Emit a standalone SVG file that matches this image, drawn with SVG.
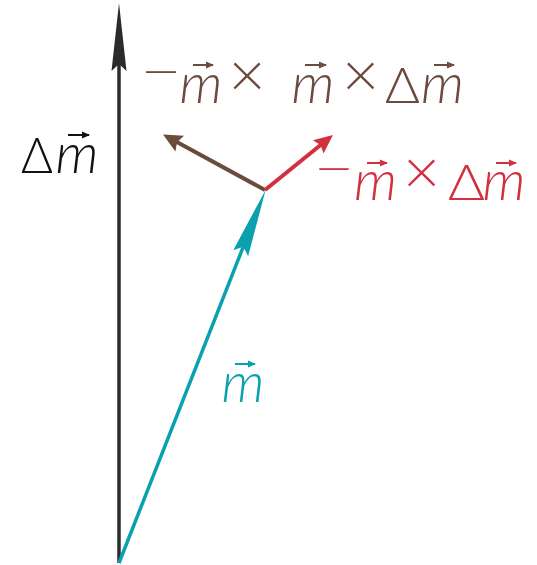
<svg xmlns="http://www.w3.org/2000/svg" width="537" height="565" viewBox="0 0 537 565">
<defs>
<style>
.t{font-family:"Lato","DejaVu Sans",sans-serif;font-weight:300}
.m{font-style:italic;font-size:55px;text-anchor:middle}
.d{font-size:50px;text-anchor:middle}
.x{font-size:64px;text-anchor:middle}
.mi{font-size:50px;text-anchor:middle}
.br{fill:#6b4c3c}
.rd{fill:#d2303f}
.bk{fill:#111}
.tl{fill:#0aa0b0}
.va{stroke-width:2;fill:none}
</style>
<marker id="hk" markerUnits="userSpaceOnUse" viewBox="-40 -10 72 20" markerWidth="72" markerHeight="20" refX="0" refY="0" orient="auto"><path d="M30,0 L-38,-7.5 L-31,0 L-38,7.5 Z" fill="#2b2b2b"/></marker>
<marker id="ht" markerUnits="userSpaceOnUse" viewBox="-40 -10 72 20" markerWidth="72" markerHeight="20" refX="0" refY="0" orient="auto"><path d="M30,0 L-38,-8 L-31,0 L-38,8 Z" fill="#0aa0b0"/></marker>
<marker id="hb" markerUnits="userSpaceOnUse" viewBox="-12 -10 24 20" markerWidth="24" markerHeight="20" refX="0" refY="0" orient="auto"><path d="M10,0 L-9,-9 L-6,0 L-9,9 Z" fill="#6b4c3c"/></marker>
<marker id="hr" markerUnits="userSpaceOnUse" viewBox="-12 -10 24 20" markerWidth="24" markerHeight="20" refX="0" refY="0" orient="auto"><path d="M10,0 L-9,-8.5 L-6,0 L-9,8.5 Z" fill="#d2303f"/></marker>
<marker id="sk" markerUnits="userSpaceOnUse" viewBox="-8 -4 9 8" markerWidth="9" markerHeight="8" refX="0" refY="0" orient="auto"><path d="M1,0 L-7,-3.5 L-7,3.5 Z" fill="#111"/></marker>
<marker id="sb" markerUnits="userSpaceOnUse" viewBox="-8 -4 9 8" markerWidth="9" markerHeight="8" refX="0" refY="0" orient="auto"><path d="M1,0 L-7,-3.5 L-7,3.5 Z" fill="#6b4c3c"/></marker>
<marker id="sr" markerUnits="userSpaceOnUse" viewBox="-8 -4 9 8" markerWidth="9" markerHeight="8" refX="0" refY="0" orient="auto"><path d="M1,0 L-7,-3.5 L-7,3.5 Z" fill="#d2303f"/></marker>
<marker id="st" markerUnits="userSpaceOnUse" viewBox="-8 -4 9 8" markerWidth="9" markerHeight="8" refX="0" refY="0" orient="auto"><path d="M1,0 L-7,-3.5 L-7,3.5 Z" fill="#0aa0b0"/></marker>
</defs>
<rect width="537" height="565" fill="#fff"/>
<g id="connectors" fill="none" stroke-linecap="butt">
<line id="dm-vec" x1="119" y1="563" x2="119" y2="33" stroke="#2b2b2b" stroke-width="3.5" marker-end="url(#hk)"/>
<line id="m-vec" x1="119" y1="563" x2="254.6" y2="217.9" stroke="#0aa0b0" stroke-width="3.5" marker-end="url(#ht)"/>
<line id="mmdm-vec" x1="265" y1="190" x2="171.8" y2="139.3" stroke="#6b4c3c" stroke-width="4" marker-end="url(#hb)"/>
<line id="mdm-vec" x1="265" y1="190" x2="325.2" y2="141.3" stroke="#d2303f" stroke-width="4" marker-end="url(#hr)"/>
</g>
<g id="label-dm" class="t bk">
<text class="d" x="37" y="173" textLength="32" lengthAdjust="spacingAndGlyphs">Δ</text>
<text class="m" x="77" y="173">m</text>
<path class="va" stroke="#111" d="M68,135 H89" marker-end="url(#sk)"/>
</g>
<g id="label-m" class="t tl">
<text class="m" x="243" y="402">m</text>
<path class="va" stroke="#0aa0b0" d="M235,364 H255" marker-end="url(#st)"/>
</g>
<g id="label-mmdm" class="t br">
<text class="mi" x="161" y="89" textLength="42" lengthAdjust="spacingAndGlyphs">−</text>
<text class="m" x="201" y="103">m</text>
<path class="va" stroke="#6b4c3c" d="M193,65 H213" marker-end="url(#sb)"/>
<text class="x" x="247" y="97">×</text>
<text class="m" x="313" y="103">m</text>
<path class="va" stroke="#6b4c3c" d="M305,65 H326" marker-end="url(#sb)"/>
<text class="x" x="360.5" y="97">×</text>
<text class="d" x="402.5" y="103" textLength="35" lengthAdjust="spacingAndGlyphs">Δ</text>
<text class="m" x="442.5" y="103">m</text>
<path class="va" stroke="#6b4c3c" d="M434,65 H454" marker-end="url(#sb)"/>
</g>
<g id="label-mdm" class="t rd">
<text class="mi" x="334" y="186" textLength="41" lengthAdjust="spacingAndGlyphs">−</text>
<text class="m" x="375.5" y="200">m</text>
<path class="va" stroke="#d2303f" d="M367,163 H387" marker-end="url(#sr)"/>
<text class="x" x="421.5" y="194">×</text>
<text class="d" x="466.5" y="200" textLength="37" lengthAdjust="spacingAndGlyphs">Δ</text>
<text class="m" x="504" y="200">m</text>
<path class="va" stroke="#d2303f" d="M496,163 H516" marker-end="url(#sr)"/>
</g>
</svg>
